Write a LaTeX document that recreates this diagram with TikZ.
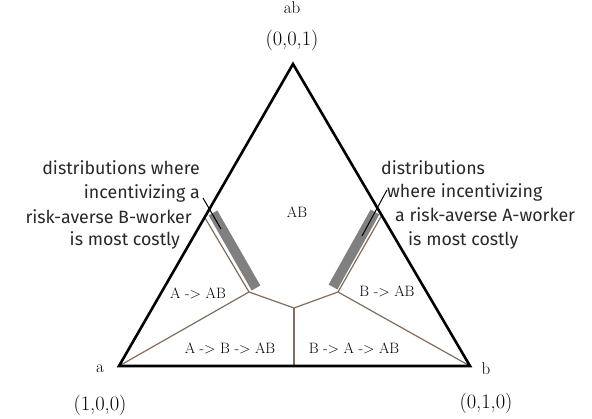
\documentclass[tikz,border=0pt]{standalone}
\usepackage{fontspec}
\setsansfont{Fira Sans}
\definecolor{edgebrown}{RGB}{125,110,95}
\definecolor{bargray}{RGB}{128,128,128}
\definecolor{notetext}{RGB}{40,40,40}
\begin{document}
\begin{tikzpicture}[x=1pt,y=-1pt,
  tri/.style={line width=2.6pt,black,line join=miter},
  region/.style={draw=edgebrown,line width=1.2pt},
  bar/.style={bargray,line width=10pt},
  leader/.style={black,line width=1pt},
  reglabel/.style={inner sep=0pt,font=\fontsize{15}{17}\selectfont},
  vertexlabel/.style={inner sep=0pt,font=\fontsize{17}{19}\selectfont},
  cornerlabel/.style={inner sep=0pt,font=\fontsize{20.5}{22}\selectfont},
  note/.style={inner sep=0pt,text=notetext,font=\sffamily\fontsize{17.8}{20}\selectfont}]
\useasboundingbox (0,0) rectangle (592,419);
% vertices
\coordinate (va) at (119,366);
\coordinate (vb) at (470,366);
\coordinate (vc) at (293,64);
% inner points
\coordinate (p1) at (249,292);
\coordinate (p2) at (338,292);
\coordinate (q) at (294,308);
\coordinate (qb) at (294,366);
\coordinate (el) at (204.5,217);
\coordinate (er) at (382,215);
% region boundaries
\draw[region] (va) -- (p1) -- (q) -- (p2) -- (vb);
\draw[region] (q) -- (qb);
\draw[region] (el) -- (p1);
\draw[region] (er) -- (p2);
% gray bars
\coordinate (bl1) at (213,213);
\coordinate (bl2) at (256,288);
\coordinate (br1) at (375,212);
\coordinate (br2) at (333,287);
\draw[bar] (bl1) -- (bl2);
\draw[bar] (br1) -- (br2);
% triangle
\draw[tri] (va) -- (vb) -- (vc) -- cycle;
% region labels
\node[reglabel] (rab) at (297,212) {AB};
\node[reglabel] (raab) at (198,293) {A -> AB};
\node[reglabel] (rbab) at (387,291) {B -> AB};
\node[reglabel] (rabab) at (230,348) {A -> B -> AB};
\node[reglabel] (rbaab) at (354,348) {B -> A -> AB};
% corner labels
\node[vertexlabel] (lab) at (292,8) {ab};
\node[cornerlabel] (lc) at (292,40) {(0,0,1)};
\node[vertexlabel] (la) at (100,369) {a};
\node[cornerlabel] (lca) at (100,405) {(1,0,0)};
\node[vertexlabel] (lb) at (486,369) {b};
\node[cornerlabel] (lcb) at (486,403) {(0,1,0)};
% left note
\node[note,anchor=east] (nl1) at (200,168) {distributions where};
\node[note,anchor=east] (nl2) at (200,193) {incentivizing a};
\node[note,anchor=east] (nl3) at (192,217) {risk-averse B-worker};
\node[note,anchor=east] (nl4) at (180,240) {is most costly};
% right note
\node[note,anchor=west] (nr1) at (381,168) {distributions};
\node[note,anchor=west] (nr2) at (387,192) {where incentivizing};
\node[note,anchor=west] (nr3) at (395,215) {a risk-averse A-worker};
\node[note,anchor=west] (nr4) at (408,240) {is most costly};
% leader lines
\coordinate (ll1) at (203,198);
\coordinate (ll2) at (221,229);
\coordinate (lr1) at (387,190);
\coordinate (lr2) at (362,236);
\draw[leader] (ll1) -- (ll2);
\draw[leader] (lr1) -- (lr2);
\end{tikzpicture}
\end{document}
